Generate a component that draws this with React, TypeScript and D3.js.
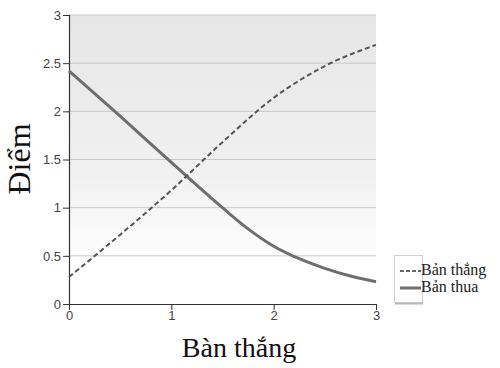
import React, { useEffect, useRef } from 'react';
import * as d3 from 'd3';

const xTicks = [0, 1, 2, 3];
const yTicks = [0, 0.5, 1, 1.5, 2, 2.5, 3];

const winX = [0, 0.5, 1, 1.5, 2, 2.5, 3];
const winY = [0.28, 0.72, 1.18, 1.68, 2.14, 2.47, 2.69];

const loseX = [0, 0.5, 1, 1.5, 1.75, 2, 2.25, 2.5, 2.75, 3];
const loseY = [2.42, 1.95, 1.47, 1.0, 0.78, 0.6, 0.47, 0.37, 0.29, 0.23];

const seriesNames = ['Bản thắng', 'Bản thua'];

const App = () => {
  const svgRef = useRef(null);

  useEffect(() => {
    const svg = d3.select(svgRef.current);
    svg.selectAll('*').remove();

    const x = d3.scaleLinear().domain([0, 3]).range([69, 376]);
    const y = d3.scaleLinear().domain([0, 3]).range([304, 15]);

    const defs = svg.append('defs');
    const grad = defs.append('linearGradient')
      .attr('id', 'bg').attr('x1', 0).attr('y1', 0).attr('x2', 0).attr('y2', 1);
    grad.append('stop').attr('offset', '0%').attr('stop-color', '#e6e6e6');
    grad.append('stop').attr('offset', '55%').attr('stop-color', '#f1f1f1');
    grad.append('stop').attr('offset', '88%').attr('stop-color', '#ffffff');

    svg.append('rect')
      .attr('x', x(0)).attr('y', y(3))
      .attr('width', x(3) - x(0)).attr('height', y(0) - y(3))
      .attr('fill', 'url(#bg)');

    // gridlines
    svg.append('g').selectAll('line')
      .data(yTicks.filter(d => d > 0))
      .enter().append('line')
      .attr('x1', x(0)).attr('x2', x(3))
      .attr('y1', d => y(d)).attr('y2', d => y(d))
      .attr('stroke', '#c9c9c9').attr('stroke-width', 1);

    const yAxis = svg.append('g')
      .attr('transform', `translate(${x(0)},0)`)
      .call(d3.axisLeft(y).tickValues(yTicks).tickSize(6).tickPadding(2).tickFormat(d3.format('')));
    const xAxis = svg.append('g')
      .attr('transform', `translate(0,${y(0)})`)
      .call(d3.axisBottom(x).tickValues(xTicks).tickSize(6).tickPadding(1).tickFormat(d3.format('d')));

    [yAxis, xAxis].forEach(g => {
      g.select('.domain').attr('stroke', '#333').attr('stroke-width', 1.2);
      g.selectAll('.tick line').attr('stroke', '#333');
      g.selectAll('.tick text')
        .attr('fill', '#444')
        .attr('font-family', 'Liberation Sans, Arial, sans-serif')
        .attr('font-size', 13);
    });
    xAxis.select('.domain').attr('d', `M${x(0)},0.5H${x(3)}`);
    yAxis.select('.domain').attr('d', `M0.5,${y(3)}V${y(0)}`);

    const winPts = winX.map((d, i) => [x(d), y(winY[i])] as [number, number]);
    const losePts = loseX.map((d, i) => [x(d), y(loseY[i])] as [number, number]);

    svg.append('path')
      .attr('d', d3.line().curve(d3.curveMonotoneX)(losePts))
      .attr('fill', 'none').attr('stroke', '#6e6e6e').attr('stroke-width', 3);
    svg.append('path')
      .attr('d', d3.line().curve(d3.curveMonotoneX)(winPts))
      .attr('fill', 'none').attr('stroke', '#555').attr('stroke-width', 2)
      .attr('stroke-dasharray', '5,3');

    // axis titles
    svg.append('text')
      .attr('x', 239).attr('y', 357)
      .attr('text-anchor', 'middle')
      .attr('font-family', 'Liberation Serif, Times New Roman, serif')
      .attr('font-size', 28).attr('fill', '#111')
      .text('Bàn thắng');
    svg.append('text')
      .attr('transform', 'translate(30,159) rotate(-90)')
      .attr('text-anchor', 'middle')
      .attr('font-family', 'Liberation Serif, Times New Roman, serif')
      .attr('font-size', 32).attr('fill', '#111')
      .text('Điểm');

    // legend
    const lg = svg.append('g');
    lg.append('rect')
      .attr('x', 394.5).attr('y', 255.5).attr('width', 28).attr('height', 47)
      .attr('fill', '#fff').attr('stroke', '#d0d0d0');
    lg.append('line')
      .attr('x1', 395).attr('x2', 423).attr('y1', 303.5).attr('y2', 303.5)
      .attr('stroke', '#b8b8b8').attr('stroke-width', 2);
    const rows = [
      { dash: '4,2', width: 1.5, color: '#333' },
      { dash: null, width: 3, color: '#6e6e6e' },
    ];
    rows.forEach((r, i) => {
      const yy = 271 + i * 17;
      lg.append('line')
        .attr('x1', 400).attr('x2', 421).attr('y1', yy).attr('y2', yy)
        .attr('stroke', r.color).attr('stroke-width', r.width)
        .attr('stroke-dasharray', r.dash);
      lg.append('text')
        .attr('x', 421).attr('y', yy + 4)
        .attr('font-family', 'Liberation Serif, Times New Roman, serif')
        .attr('font-size', 16).attr('fill', '#222')
        .text(seriesNames[i]);
    });
  }, []);

  return <svg ref={svgRef} width={500} height={368} style={{ position: 'absolute', left: 0, top: 0 }} />;
};

export default App;
